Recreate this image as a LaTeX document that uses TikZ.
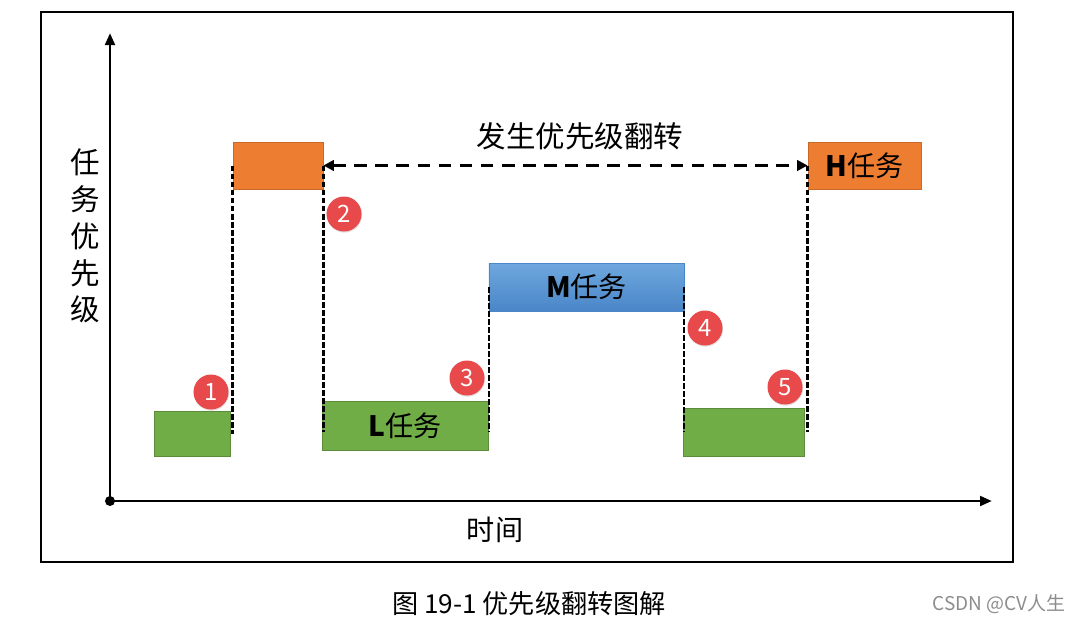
\documentclass[tikz,border=0pt]{standalone}
\usepackage{fontspec}
\setmainfont{Noto Sans CJK SC}
\usetikzlibrary{arrows.meta,shadows}
\definecolor{TaskGreen}{HTML}{70AD47}
\definecolor{TaskGreenDark}{HTML}{5A8C3A}
\definecolor{TaskOrange}{HTML}{ED7D31}
\definecolor{TaskOrangeDark}{HTML}{C8692A}
\definecolor{TaskBlueTop}{HTML}{6FA8DE}
\definecolor{TaskBlueBot}{HTML}{4A86C8}
\definecolor{BadgeRed}{HTML}{E8494B}
\definecolor{MarkGray}{HTML}{8C8C8C}

\begin{document}
\begin{tikzpicture}[x=0.025cm, y=-0.025cm, every node/.style={inner sep=0pt}, gbox/.style={fill=TaskGreen, draw=TaskGreenDark, line width=0.6pt, font=\fontsize{20}{20}\selectfont}, obox/.style={fill=TaskOrange, draw=TaskOrangeDark, line width=0.6pt, font=\fontsize{20}{20}\selectfont}, mbox/.style={top color=TaskBlueTop, bottom color=TaskBlueBot, draw=TaskBlueBot, line width=0.4pt, font=\fontsize{20}{20}\selectfont}, axis/.style={-{Triangle[length=3mm,width=2.4mm]}, line width=2.1pt}, jump/.style={dash pattern=on 4.2pt off 1.5pt, line width=1.6pt}, span/.style={{Triangle[length=2.6mm,width=2.6mm]}-{Triangle[length=2.6mm,width=2.6mm]}, dash pattern=on 9pt off 6pt, line width=2pt}, badge/.style={circle, fill=BadgeRed, minimum size=0.875cm, text=white, font=\fontsize{17}{17}\selectfont, drop shadow={opacity=0.25, shadow xshift=0.4pt, shadow yshift=-0.8pt}}]
\useasboundingbox (0,0) rectangle (1079,620);
\draw[line width=1.4pt] (41,12) rectangle (1013,562);
% axes
\coordinate (org) at (110,501);
\coordinate (ytip) at (110,33);
\coordinate (xtip) at (992,501);
\draw[axis] (org) -- (ytip);
\draw[axis] (org) -- (xtip);
\fill (org) circle[radius=5];
\node[align=center, font=\fontsize{21}{26.2}\selectfont] (ylab) at (85,236) {任\\务\\优\\先\\级};
\node[font=\fontsize{20}{20}\selectfont] (xlab) at (495,530) {时间};
% task boxes
\node[gbox, minimum width=1.9cm, minimum height=1.125cm] (g1) at (192,433.5) {};
\node[obox, minimum width=2.25cm, minimum height=1.175cm] (o1) at (278,165.5) {};
\node[gbox, minimum width=4.15cm, minimum height=1.225cm] (L) at (405,425.5) {\textbf{L}任务};
\node[mbox, minimum width=4.875cm, minimum height=1.2cm] (M) at (586.5,287) {\textbf{M}任务};
\node[gbox, minimum width=3.025cm, minimum height=1.2cm] (g3) at (743.5,432) {};
\node[obox, minimum width=2.825cm, minimum height=1.175cm] (H) at (864.5,165.5) {\textbf{H}任务};
% switches
\draw[jump] (o1.west) -- (o1.west |- g1.east);
\draw[jump] (o1.east) -- ([yshift=-0.15cm]o1.east |- L.west);
\draw[jump] (M.west) -- ([yshift=-0.15cm]M.west |- L.east);
\draw[jump] (M.east) -- (M.east |- g3.west);
\draw[jump] (H.west) -- (H.west |- g3.east);
\draw[span] (o1.east) -- (H.west);
\node[font=\fontsize{21}{21}\selectfont] (inv) at (580,136) {发生优先级翻转};
\foreach \n/\px/\py in {1/211/392, 2/344/214, 3/467/378, 4/705/328, 5/785/387}
  \node[badge] (b\n) at (\px,\py) {\n};
% caption
\node[font=\fontsize{18.6}{18.6}\selectfont] (cap) at (529,604) {图 19-1 优先级翻转图解};
\node[font=\fontsize{13.5}{13.5}\selectfont, text=MarkGray] (mark) at (999,604) {CSDN @CV人生};
\end{tikzpicture}
\end{document}
